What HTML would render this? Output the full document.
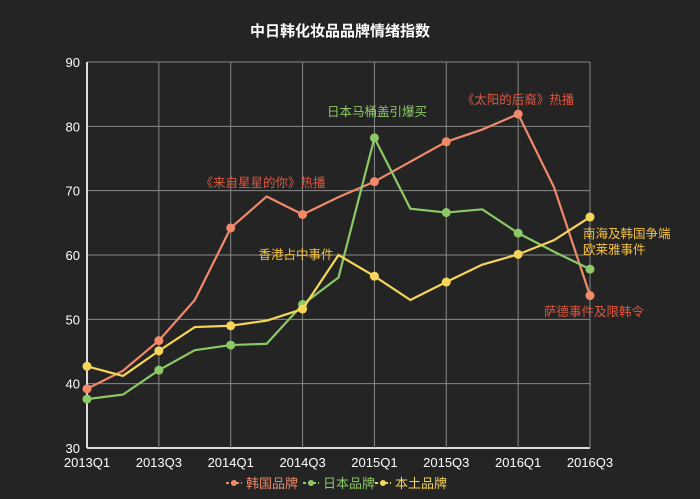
<!DOCTYPE html>
<html><head><meta charset="utf-8"><style>
body{margin:0;background:#242424;}
svg{display:block;font-family:"Liberation Sans","Noto Sans CJK SC",sans-serif;}
</style></head><body>
<svg id="c" width="700" height="499">
<rect width="700" height="499" fill="#242424"/>
<text x="340" y="36" text-anchor="middle" fill="#fff" font-size="15" font-weight="bold">中日韩化妆品品牌情绪指数</text>
<g id="grid"></g><g id="series"></g><g id="ann"></g><g id="legend"></g>
</svg>
<script>
const categories=["2013Q1","2013Q2","2013Q3","2013Q4","2014Q1","2014Q2","2014Q3","2014Q4","2015Q1","2015Q2","2015Q3","2015Q4","2016Q1","2016Q2","2016Q3"];
const korea=[39.2,42,46.7,53,64.2,69.1,66.3,69,71.4,74.5,77.6,79.5,81.9,70.5,53.7];
const japan=[37.6,38.3,42.1,45.2,46,46.2,52.3,56.5,78.2,67.2,66.6,67.1,63.4,60.5,57.8];
const local=[42.7,41.2,45.1,48.8,49,49.8,51.6,60,56.7,53,55.8,58.5,60.1,62.3,65.9];
const yTicks=[30,40,50,60,70,80,90];
const seriesNames=["韩国品牌","日本品牌","本土品牌"];
const NS="http://www.w3.org/2000/svg";
const X0=87,X1=590,Y0=448,Y1=62;
const xs=i=>X0+(X1-X0)*i/(categories.length-1);
const ys=v=>Y0-(v-30)/(90-30)*(Y0-Y1);
function mk(t,a,p){const e=document.createElementNS(NS,t);for(const k in a)e.setAttribute(k,a[k]);p.appendChild(e);return e;}
const g=document.getElementById('grid');
yTicks.forEach(v=>{
 const l=mk('line',{x1:X0,x2:X1,y1:ys(v),y2:ys(v),stroke:v==30?'#ddd':'#888','stroke-width':v==30?2:1},g);
 
 
 const t=mk('text',{x:X0-7,y:ys(v)+5,'text-anchor':'end',fill:'#fff','font-size':13},g);
 t.textContent=v;
 
 
});
categories.forEach((c,i)=>{
 if(i%2)return;
 const l=mk('line',{x1:xs(i),x2:xs(i),y1:Y1,y2:Y0,stroke:i==0?'#ddd':'#888','stroke-width':i==0?2:1},g);
 
 
 const t=mk('text',{x:xs(i),y:467,'text-anchor':'middle',fill:'#fff','font-size':13},g);
 t.textContent=c;
 
 
});
const colors=["#f08a6a","#8cc865","#f5d55a"];
const s=document.getElementById('series');
[korea,japan,local].forEach((d,k)=>{
 const p=mk('polyline',{points:d.map((v,i)=>xs(i)+','+ys(v)).join(' '),fill:'none',stroke:colors[k],'stroke-width':2.2},s);
 
 
 d.forEach((v,i)=>{if(i%2)return;
  const c=mk('circle',{cx:xs(i),cy:ys(v),r:4.5,fill:colors[k]},s);
  
  
 });
});
const ann=document.getElementById('ann');
[["《来自星星的你》热播",263,187,"#e0563e","middle"],["日本马桶盖引爆买",377,116,"#8cc865","middle"],["《太阳的后裔》热播",518,104,"#e0563e","middle"],["香港占中事件",296,259,"#f5c040","middle"],["南海及韩国争端",583,238,"#f5c040","start"],["欧莱雅事件",583,254,"#f5c040","start"],["萨德事件及限韩令",594,316,"#e0563e","middle"]].forEach(a=>{
 const t=mk('text',{x:a[1],y:a[2],fill:a[3],'font-size':12.5,'text-anchor':a[4]},ann);
 t.textContent=a[0];
 
 
});
const lg=document.getElementById('legend');
[226,303,375].forEach((x,k)=>{
 const l=mk('line',{x1:x,x2:x+16,y1:483,y2:483,stroke:colors[k],'stroke-width':2,'stroke-dasharray':'3,2'},lg);
 
 
 mk('circle',{cx:x+8,cy:483,r:3,fill:colors[k]},lg);
 const t=mk('text',{x:x+20,y:488,fill:colors[k],'font-size':13},lg);
 t.textContent=seriesNames[k];
 
 
});
</script>
</body></html>
